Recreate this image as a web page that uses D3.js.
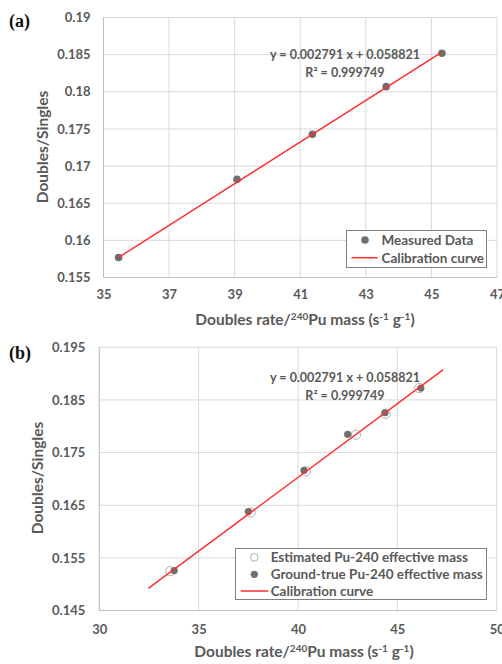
<!DOCTYPE html>
<html><head><meta charset="utf-8">
<script src="https://cdn.jsdelivr.net/npm/d3@7"></script>
<style>
body{margin:0;background:#fff;}
</style></head>
<body><svg id="c" width="502" height="664" style="font-family:Lato,'Open Sans',sans-serif"></svg>
<script>
// ---- Data (a) ----
const aX = [35.46, 39.07, 41.37, 43.62, 45.32];
const aY = [0.15770, 0.16821, 0.17427, 0.18069, 0.18519];
const aLineX = [35.46, 45.32];
const aLineY = [0.15770, 0.18535];
const aXTicks = [35, 37, 39, 41, 43, 45, 47];
const aYTicks = [0.155, 0.16, 0.165, 0.17, 0.175, 0.18, 0.185, 0.19];
const aYLabels = ["0.155","0.16","0.165","0.17","0.175","0.18","0.185","0.19"];

// ---- Data (b) ----
const bEstX = [33.57, 37.62, 40.40, 42.92, 44.41, 46.10];
const bEstY = [0.15246, 0.16360, 0.17144, 0.17840, 0.18238, 0.18726];
const bTrueX = [33.77, 37.50, 40.30, 42.50, 44.38, 46.18];
const bTrueY = [0.15259, 0.16379, 0.17163, 0.17847, 0.18257, 0.18726];
const bLineX = [32.47, 47.31];
const bLineY = [0.14920, 0.19077];
const bXTicks = [30, 35, 40, 45, 50];
const bYTicks = [0.145, 0.155, 0.165, 0.175, 0.185, 0.195];
const bYLabels = ["0.145","0.155","0.165","0.175","0.185","0.195"];

const eq1 = "y = 0.002791 x + 0.058821";
const eq2 = "R² = 0.999749";

const svg = d3.select("#c");
const grey = "#595959", grid = "#d9d9d9", red = "#ff2a2a", mark = "#6f6f6f";
const FT = 13, FL = 13.5, FE = 12.5, FA = 15.5;

function panel(o){
  const g = svg.append("g");
  const x = d3.scaleLinear().domain(o.xd).range([o.L, o.R]);
  const y = d3.scaleLinear().domain(o.yd).range([o.B, o.T]);
  g.append("g").selectAll("line").data(o.xt).join("line")
    .attr("x1", d=>x(d)).attr("x2", d=>x(d)).attr("y1", o.T).attr("y2", o.B)
    .attr("stroke", grid).attr("stroke-width", 1);
  g.append("g").selectAll("line").data(o.yt).join("line")
    .attr("x1", o.L).attr("x2", o.R).attr("y1", d=>y(d)).attr("y2", d=>y(d))
    .attr("stroke", grid).attr("stroke-width", 1);
  g.append("line").attr("x1", o.L).attr("x2", o.L).attr("y1", o.T).attr("y2", o.B).attr("stroke","#bfbfbf");
  g.append("line").attr("x1", o.L).attr("x2", o.R).attr("y1", o.B).attr("y2", o.B).attr("stroke","#bfbfbf");
  const ax = d3.axisBottom(x).tickValues(o.xt).tickSize(0).tickPadding(o.xpad).tickFormat(d3.format("d"));
  const axg = g.append("g").attr("transform",`translate(0,${o.B})`).call(ax);
  axg.select(".domain").remove();
  axg.selectAll("text").attr("fill", grey).style("font-size", FT+"px").style("font-weight", "bold").style("font-family","Lato");
  const ay = d3.axisLeft(y).tickValues(o.yt).tickSize(0).tickPadding(o.ypad).tickFormat((d,i)=>o.yl[i]);
  const ayg = g.append("g").attr("transform",`translate(${o.L},0)`).call(ay);
  ayg.select(".domain").remove();
  ayg.selectAll("text").attr("fill", grey).style("font-size", FT+"px").style("font-weight", "bold").style("font-family","Lato");
  return {g, x, y};
}

function titles(o){
  const t = svg.append("text").attr("x", o.xtx).attr("y", o.xty).attr("text-anchor","middle")
    .attr("fill", grey).style("font-size", FA+"px").style("font-weight","bold");
  t.append("tspan").text("Doubles rate/");
  t.append("tspan").text("240").style("font-size", "10px").attr("dy", -5);
  t.append("tspan").text("Pu mass (s").attr("dy", 5);
  t.append("tspan").text("-1").style("font-size", "10px").attr("dy", -5);
  t.append("tspan").text(" g").attr("dy", 5);
  t.append("tspan").text("-1").style("font-size", "10px").attr("dy", -5);
  t.append("tspan").text(")").attr("dy", 5);
  svg.append("text").attr("transform",`translate(${o.ytx},${o.yty}) rotate(-90)`)
    .attr("text-anchor","middle").attr("fill", grey).style("font-size", FA+"px").style("font-weight","bold")
    .text("Doubles/Singles");
  svg.append("text").attr("x", o.lx).attr("y", o.ly).style("font-family","'Liberation Serif','Times New Roman',serif")
    .style("font-size", "18px").style("font-weight","bold").attr("fill","#111").text(o.label);
  svg.append("text").attr("x", o.ex).attr("y", o.ey1).attr("text-anchor","middle").attr("fill", grey)
    .style("font-size", FE+"px").style("font-weight","bold").text(eq1);
  svg.append("text").attr("x", o.ex).attr("y", o.ey2).attr("text-anchor","middle").attr("fill", grey)
    .style("font-size", FE+"px").style("font-weight","bold").text(eq2);
}

function legText(g, x, y, s){
  g.append("text").attr("x",x).attr("y",y).attr("fill",grey).style("font-size",FL+"px").style("font-weight","bold").text(s);
}

// ---- Panel (a) ----
const A = panel({xd:[35,47], yd:[0.155,0.19], L:103.5, R:497, T:17.5, B:277.5,
  xt:aXTicks, yt:aYTicks, yl:aYLabels, xpad:12, ypad:13});
A.g.selectAll("circle.m").data(aX).join("circle").attr("class","m")
  .attr("cx", d=>A.x(d)).attr("cy", (d,i)=>A.y(aY[i])).attr("r", 3.8).attr("fill", mark);
A.g.append("path").datum(aLineX.map((d,i)=>[d,aLineY[i]]))
  .attr("d", d3.line().x(d=>A.x(d[0])).y(d=>A.y(d[1])))
  .attr("stroke", red).attr("stroke-width", 1.4).attr("fill","none");
titles({xtx:305, xty:325, ytx:48, yty:147, lx:9, ly:27, label:"(a)", ex:345, ey1:59, ey2:76.5});
const la = svg.append("g");
la.append("rect").attr("x",346.5).attr("y",230.5).attr("width",140).attr("height",37)
  .attr("fill","#fff").attr("stroke","#7f7f7f").attr("stroke-width",1);
la.append("circle").attr("cx",365).attr("cy",240).attr("r",3.8).attr("fill",mark);
la.append("line").attr("x1",351.5).attr("x2",377.5).attr("y1",257.7).attr("y2",257.7).attr("stroke",red).attr("stroke-width",1.5);
legText(la, 381.5, 244.8, "Measured Data");
legText(la, 381.5, 262.5, "Calibration curve");

// ---- Panel (b) ----
const B = panel({xd:[30,50], yd:[0.145,0.195], L:99.3, R:496.7, T:347.3, B:610.5,
  xt:bXTicks, yt:bYTicks, yl:bYLabels, xpad:14, ypad:14});
B.g.selectAll("circle.e").data(bEstX).join("circle").attr("class","e")
  .attr("cx", d=>B.x(d)).attr("cy", (d,i)=>B.y(bEstY[i])).attr("r", 4.6)
  .attr("fill","#fff").attr("stroke","#b0b0b0").attr("stroke-width",1);
B.g.selectAll("circle.t").data(bTrueX).join("circle").attr("class","t")
  .attr("cx", d=>B.x(d)).attr("cy", (d,i)=>B.y(bTrueY[i])).attr("r", 3.6).attr("fill", mark);
B.g.append("path").datum(bLineX.map((d,i)=>[d,bLineY[i]]))
  .attr("d", d3.line().x(d=>B.x(d[0])).y(d=>B.y(d[1])))
  .attr("stroke", red).attr("stroke-width", 1.4).attr("fill","none");
titles({xtx:304, xty:657, ytx:43, yty:478, lx:9, ly:359, label:"(b)", ex:345, ey1:382, ey2:399.5});
const lb = svg.append("g");
lb.append("rect").attr("x",235.5).attr("y",548.5).attr("width",251).attr("height",51)
  .attr("fill","#fff").attr("stroke","#7f7f7f").attr("stroke-width",1);
lb.append("circle").attr("cx",254.3).attr("cy",557.3).attr("r",3.8).attr("fill","#fff").attr("stroke","#b0b0b0");
lb.append("circle").attr("cx",254.3).attr("cy",574.3).attr("r",3.6).attr("fill",mark);
lb.append("line").attr("x1",240.7).attr("x2",268.3).attr("y1",591).attr("y2",591).attr("stroke",red).attr("stroke-width",1.5);
legText(lb, 270.7, 562, "Estimated Pu-240 effective mass");
legText(lb, 270.7, 579, "Ground-true Pu-240 effective mass");
legText(lb, 270.7, 595.8, "Calibration curve");
</script></body></html>
